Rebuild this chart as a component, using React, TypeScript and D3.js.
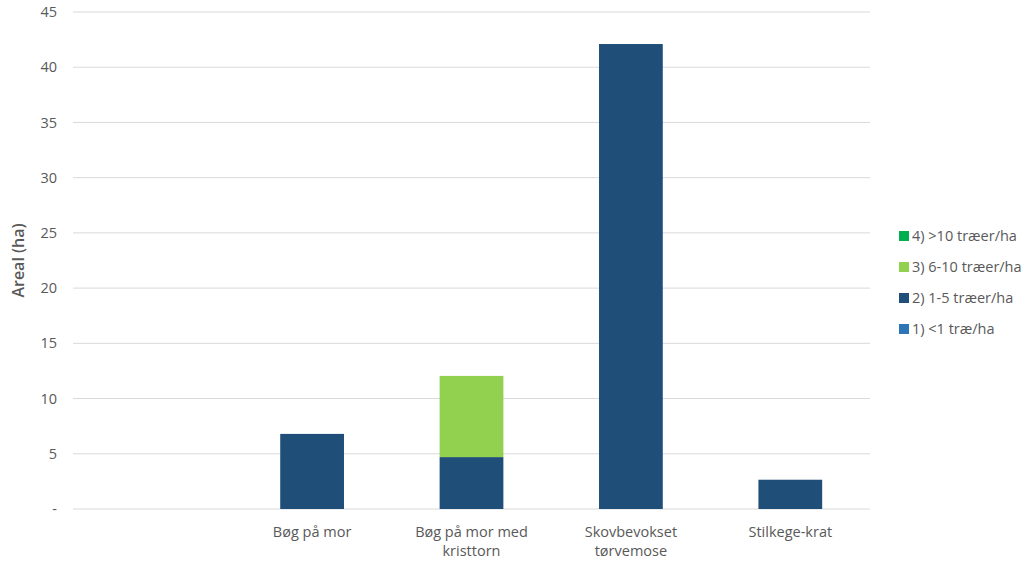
import React from "react";
import * as d3 from "d3";

const categories = ["", "Bøg på mor", "Bøg på mor med\nkristtorn", "Skovbevokset\ntørvemose", "Stilkege-krat"];
const seriesNames = ["1) <1 træ/ha", "2) 1-5 træer/ha", "3) 6-10 træer/ha", "4) >10 træer/ha"];
const seriesColors = ["#2E75B6", "#1F4E79", "#92D050", "#00B050"];
const lt1 = [0, 0, 0, 0, 0];
const t1to5 = [0, 6.8, 4.7, 42.1, 2.65];
const t6to10 = [0, 0, 7.35, 0, 0];
const gt10 = [0, 0, 0, 0, 0];
const yTicks = [0, 5, 10, 15, 20, 25, 30, 35, 40, 45];

const W = 1030;
const H = 563;
const margin = { left: 73, right: 160, top: 12, bottom: 54 };
const font = "'Open Sans', 'Liberation Sans', sans-serif";
const textColor = "#595959";

export default function App() {
  const x = d3
    .scaleBand<number>()
    .domain(d3.range(categories.length))
    .range([margin.left, W - margin.right])
    .paddingInner(0.6)
    .paddingOuter(0.3);
  const y = d3.scaleLinear().domain([0, 45]).range([H - margin.bottom, margin.top]);

  const rows = categories.map((c, i) => ({
    i,
    s0: lt1[i],
    s1: t1to5[i],
    s2: t6to10[i],
    s3: gt10[i],
  }));
  const stack = d3.stack<any>().keys(["s0", "s1", "s2", "s3"]);
  const layers = stack(rows);

  const band = (W - margin.right - margin.left) / categories.length;

  return (
    <svg width={W} height={H} style={{ position: "absolute", left: 0, top: 0, background: "#fff" }}>
      {yTicks.map((t) => (
        <g key={t}>
          <line x1={margin.left} x2={W - margin.right} y1={y(t)} y2={y(t)} stroke="#d9d9d9" strokeWidth={1} />
          <text
            x={57}
            y={y(t)}
            dy="0.35em"
            textAnchor="end"
            fontFamily={font}
            fontSize={14.5}
            fill={textColor}
          >
            {t === 0 ? "-" : t}
          </text>
        </g>
      ))}
      {layers.map((layer, k) => (
        <g key={k} fill={seriesColors[k]}>
          {layer.map((d, i) =>
            d[1] - d[0] > 0 ? (
              <rect
                key={i}
                x={x(i)}
                width={x.bandwidth()}
                y={y(d[1])}
                height={y(d[0]) - y(d[1])}
              />
            ) : null
          )}
        </g>
      ))}
      {categories.map((c, i) => {
        const cx = margin.left + band * (i + 0.5);
        return (
          <text key={i} x={cx} y={H - margin.bottom + 28} textAnchor="middle" fontFamily={font} fontSize={14.5} fill={textColor}>
            {c.split("\n").map((line, j) => (
              <tspan key={j} x={cx} dy={j === 0 ? 0 : 19}>
                {line}
              </tspan>
            ))}
          </text>
        );
      })}
      <text
        transform={`translate(24, ${(y(0) + y(45)) / 2}) rotate(-90)`}
        textAnchor="middle"
        fontFamily={font}
        fontSize={16}
        fontWeight={600}
        fill={textColor}
      >
        Areal (ha)
      </text>
      {seriesNames
        .slice()
        .reverse()
        .map((name, j) => {
          const k = seriesNames.length - 1 - j;
          const ly = 236 + j * 31;
          return (
            <g key={name}>
              <rect x={899} y={ly - 5} width={10} height={10} fill={seriesColors[k]} />
              <text x={912} y={ly} dy="0.35em" fontFamily={font} fontSize={14.5} fill={textColor}>
                {name}
              </text>
            </g>
          );
        })}
    </svg>
  );
}
